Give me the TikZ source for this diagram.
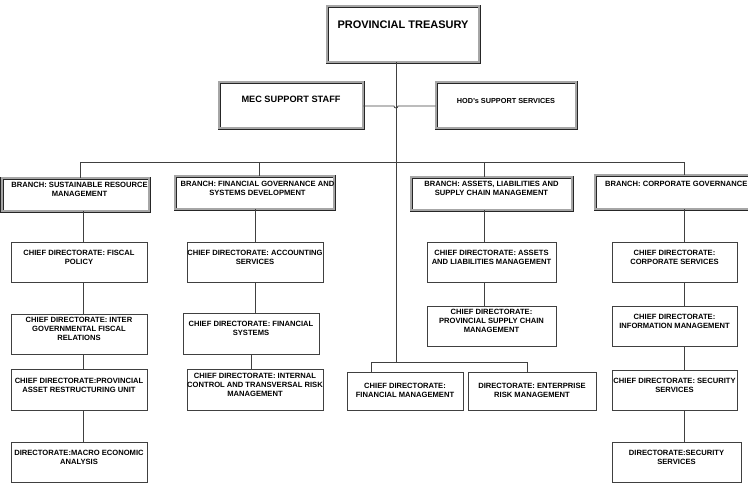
\documentclass[tikz,border=0pt]{standalone}
\usepackage{fontspec}
\setmainfont{Liberation Sans}
\begin{document}
\begin{tikzpicture}[x=1pt,y=-1pt,
  ln/.style={draw=black!75,line width=0.8pt},
  sbox/.style={draw=black!75,line width=0.8pt,rectangle,inner sep=0pt,fill=white},
  dbox/.style={draw=black!85,line width=0.7pt,double=black!35,double distance=1.6pt,rectangle,inner sep=0pt,fill=white},
  txt/.style={font=\fontsize{7.6}{9.1}\selectfont\bfseries,align=center,inner sep=0pt,anchor=north},
]
\useasboundingbox (0,0) rectangle (748,488);
% box helper: style,name,x1,y1,x2,y2,first-line top
\newcommand{\bx}[7]{%
  \node[#1,minimum width={#5-#3},minimum height={#6-#4}] (#2) at ({(#3+#5)/2},{(#4+#6)/2}) {};
  \coordinate (#2t) at ({(#3+#5)/2},#7);
}
% top level
\bx{dbox}{T}{327}{6}{479}{62}{21}
\bx{dbox}{MEC}{219}{82}{363}{128}{96}
\bx{dbox}{HOD}{436}{82}{576}{128}{98}
% branches
\bx{dbox}{B1}{2}{178}{149}{211}{182}
\bx{dbox}{B2}{175}{176}{334}{209}{181}
\bx{dbox}{B3}{411}{177}{572}{210}{181}
\bx{dbox}{B4}{595}{175}{756}{209}{181}
% column 1
\bx{sbox}{C1}{11}{242}{147}{282}{250}
\bx{sbox}{C2}{11}{314}{147}{354}{317}
\bx{sbox}{C3}{11}{369}{147}{410}{378}
\bx{sbox}{C4}{11}{442}{147}{482}{450}
% column 2
\bx{sbox}{D1}{187}{242}{323}{282}{250}
\bx{sbox}{D2}{183}{313}{319}{354}{321}
\bx{sbox}{D3}{187}{369}{323}{410}{373}
% column 3
\bx{sbox}{E1}{427}{242}{556}{282}{250}
\bx{sbox}{E2}{427}{306}{556}{346}{309}
\bx{sbox}{F1}{347}{372}{463}{410}{383}
\bx{sbox}{F2}{468}{372}{596}{410}{383}
% column 4
\bx{sbox}{G1}{612}{242}{737}{282}{250}
\bx{sbox}{G2}{612}{306}{737}{346}{314}
\bx{sbox}{G3}{612}{370}{737}{410}{378}
\bx{sbox}{G4}{612}{442}{741}{482}{450}

% texts
\node[txt,font=\fontsize{11}{13}\selectfont\bfseries] at (Tt) {PROVINCIAL TREASURY};
\node[txt,font=\fontsize{9.2}{11}\selectfont\bfseries] at (MECt) {MEC SUPPORT STAFF};
\node[txt,font=\fontsize{7.3}{8.7}\selectfont\bfseries] at (HODt) {HOD's SUPPORT SERVICES};
\node[txt,xshift=4pt] at (B1t) {BRANCH: SUSTAINABLE RESOURCE\\MANAGEMENT};
\node[txt,xshift=3pt] at (B2t) {BRANCH: FINANCIAL GOVERNANCE AND\\SYSTEMS DEVELOPMENT};
\node[txt] at (B3t) {BRANCH: ASSETS, LIABILITIES AND\\SUPPLY CHAIN MANAGEMENT};
\node[txt,anchor=north west] at (605,181) {BRANCH: CORPORATE GOVERNANCE};
\node[txt] at (C1t) {CHIEF DIRECTORATE: FISCAL\\POLICY};
\node[txt] at (C2t) {CHIEF DIRECTORATE: INTER\\GOVERNMENTAL FISCAL\\RELATIONS};
\node[txt] at (C3t) {CHIEF DIRECTORATE:PROVINCIAL\\ASSET RESTRUCTURING UNIT};
\node[txt] at (C4t) {DIRECTORATE:MACRO ECONOMIC\\ANALYSIS};
\node[txt] at (D1t) {CHIEF DIRECTORATE: ACCOUNTING\\SERVICES};
\node[txt] at (D2t) {CHIEF DIRECTORATE: FINANCIAL\\SYSTEMS};
\node[txt] at (D3t) {CHIEF DIRECTORATE: INTERNAL\\CONTROL AND TRANSVERSAL RISK\\MANAGEMENT};
\node[txt] at (E1t) {CHIEF DIRECTORATE: ASSETS\\AND LIABILITIES MANAGEMENT};
\node[txt] at (E2t) {CHIEF DIRECTORATE:\\PROVINCIAL SUPPLY CHAIN\\MANAGEMENT};
\node[txt] at (F1t) {CHIEF DIRECTORATE:\\FINANCIAL MANAGEMENT};
\node[txt] at (F2t) {DIRECTORATE: ENTERPRISE\\RISK MANAGEMENT};
\node[txt] at (G1t) {CHIEF DIRECTORATE:\\CORPORATE SERVICES};
\node[txt] at (G2t) {CHIEF DIRECTORATE:\\INFORMATION MANAGEMENT};
\node[txt] at (G3t) {CHIEF DIRECTORATE: SECURITY\\SERVICES};
\node[txt] at (G4t) {DIRECTORATE:SECURITY\\SERVICES};

% column coordinates
\coordinate (m) at (396,0);
\coordinate (bus) at (0,162);
\coordinate (k1a) at (80,0);
\coordinate (k1) at (83,0);
\coordinate (k2a) at (259,0);
\coordinate (k2) at (255,0);
\coordinate (k2b) at (251,0);
\coordinate (k3) at (484,0);
\coordinate (k4) at (684,0);
\coordinate (fl) at (371,0);
\coordinate (fr) at (527,0);
\coordinate (low) at (0,362);
\coordinate (hopL) at (394,106);
\coordinate (hopR) at (398,106);

% connectors
\draw[ln] (T.south -| m) -- (m |- low);
\draw[ln] (k1a |- bus) -- (k4 |- bus);
\draw[ln] (MEC.east |- hopL) -- (hopL) arc[start angle=180,end angle=0,radius=2] -- (HOD.west |- hopR);
\draw[ln] (k1a |- bus) -- (B1.north -| k1a);
\draw[ln] (k2a |- bus) -- (B2.north -| k2a);
\draw[ln] (k3 |- bus) -- (B3.north -| k3);
\draw[ln] (k4 |- bus) -- (B4.north -| k4);
\draw[ln] (B1.south -| k1) -- (C1.north -| k1);
\draw[ln] (C1.south -| k1) -- (C2.north -| k1);
\draw[ln] (C2.south -| k1) -- (C3.north -| k1);
\draw[ln] (C3.south -| k1) -- (C4.north -| k1);
\draw[ln] (B2.south -| k2) -- (D1.north -| k2);
\draw[ln] (D1.south -| k2) -- (D2.north -| k2);
\draw[ln] (D2.south -| k2b) -- (D3.north -| k2b);
\draw[ln] (B3.south -| k3) -- (E1.north -| k3);
\draw[ln] (E1.south -| k3) -- (E2.north -| k3);
\draw[ln] (fl |- low) -- (fr |- low);
\draw[ln] (fl |- low) -- (F1.north -| fl);
\draw[ln] (fr |- low) -- (F2.north -| fr);
\draw[ln] (B4.south -| k4) -- (G1.north -| k4);
\draw[ln] (G1.south -| k4) -- (G2.north -| k4);
\draw[ln] (G2.south -| k4) -- (G3.north -| k4);
\draw[ln] (G3.south -| k4) -- (G4.north -| k4);
\end{tikzpicture}
\end{document}
